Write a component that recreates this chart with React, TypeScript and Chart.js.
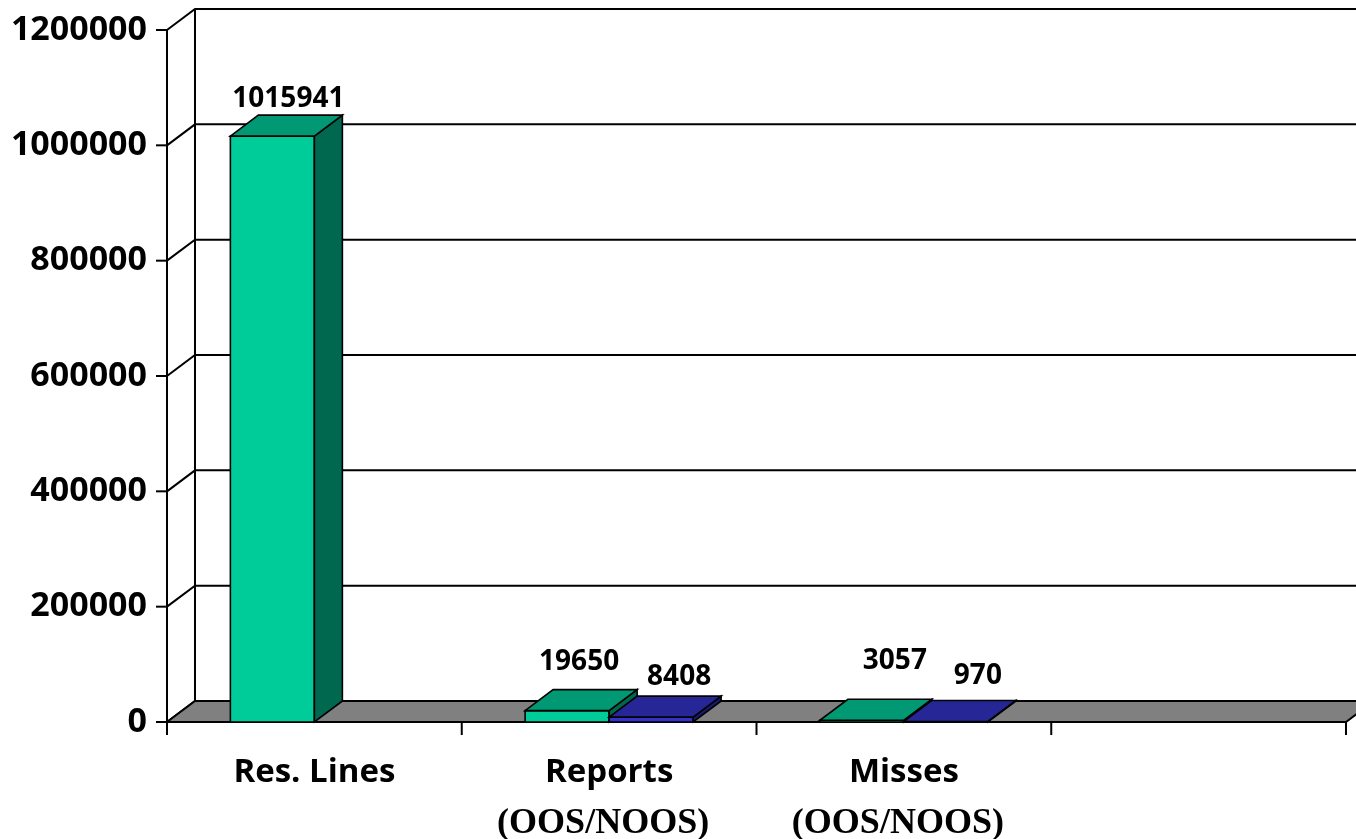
import React, { useEffect, useRef } from 'react';
import { Chart, registerables } from 'chart.js';

Chart.register(...registerables);

// Categories along the x axis (the fourth slot is an empty category)
const categories = ['Res. Lines', 'Reports', 'Misses', ''];
const categorySubLines = ['', '(OOS/NOOS)', '(OOS/NOOS)', ''];

// Series values
const greenValues: (number | null)[] = [1015941, 19650, 3057, null];
const blueValues: (number | null)[] = [null, 8408, 970, null];

// Value axis
const yMin = 0;
const yMax = 1200000;
const yStep = 200000;

// Small per-label nudges [dx, dy] for the value labels
const greenLabelNudge = [[2, 4], [-2, -8], [19, -18], [0, 0]];
const blueLabelNudge = [[0, 0], [14, 1], [18, -4], [0, 0]];

// 3D depth of the plot (pixels to the right / upward)
const DX = 28;
const DY = 21;

const SERIES_STYLE = [
  { front: '#00CC99', top: '#009973', side: '#00684F', nudge: greenLabelNudge },
  { front: '#3333CC', top: '#262696', side: '#1A1A70', nudge: blueLabelNudge },
];

const SANS = '"Open Sans", "DejaVu Sans", sans-serif';
const SERIF = '"Liberation Serif", "DejaVu Serif", serif';

function poly(ctx: CanvasRenderingContext2D, pts: number[][], fill: string) {
  ctx.beginPath();
  ctx.moveTo(pts[0][0], pts[0][1]);
  for (let i = 1; i < pts.length; i++) ctx.lineTo(pts[i][0], pts[i][1]);
  ctx.closePath();
  ctx.fillStyle = fill;
  ctx.fill();
  ctx.stroke();
}

const wallsPlugin = {
  id: 'walls3d',
  beforeDatasetsDraw(chart: any) {
    const { ctx, chartArea, scales } = chart;
    const { left, right, top, bottom } = chartArea;
    const y = scales.y;
    ctx.save();
    ctx.strokeStyle = '#000';
    ctx.lineWidth = 2;
    ctx.lineJoin = 'miter';

    // back-wall gridlines with their diagonal connectors on the side wall
    for (let v = yMin; v <= yMax; v += yStep) {
      const py = y.getPixelForValue(v);
      ctx.beginPath();
      ctx.moveTo(left, py);
      ctx.lineTo(left + DX, py - DY);
      ctx.lineTo(right + DX + 40, py - DY);
      ctx.stroke();
      // tick mark on the value axis
      ctx.beginPath();
      ctx.moveTo(left - 11, py);
      ctx.lineTo(left, py);
      ctx.stroke();
    }

    // back wall left edge
    ctx.beginPath();
    ctx.moveTo(left + DX, top - DY);
    ctx.lineTo(left + DX, bottom - DY);
    ctx.stroke();

    // floor
    poly(
      ctx,
      [
        [left, bottom],
        [right, bottom],
        [right + DX, bottom - DY],
        [left + DX, bottom - DY],
      ],
      '#808080'
    );

    // front value axis line
    ctx.beginPath();
    ctx.moveTo(left, top);
    ctx.lineTo(left, bottom + 13);
    ctx.stroke();

    // category tick marks at category boundaries
    const n = categories.length;
    const catW = (right - left) / n;
    for (let i = 1; i <= n; i++) {
      const px = left + catW * i;
      ctx.beginPath();
      ctx.moveTo(px, bottom);
      ctx.lineTo(px, bottom + 13);
      ctx.stroke();
    }
    ctx.restore();
  },
  afterDatasetsDraw(chart: any) {
    const { ctx, chartArea } = chart;
    const { bottom } = chartArea;
    ctx.save();
    ctx.strokeStyle = '#000';
    ctx.lineWidth = 1.6;
    ctx.lineJoin = 'miter';

    const labels: { text: string; x: number; y: number }[] = [];

    for (let i = 0; i < categories.length; i++) {
      chart.data.datasets.forEach((ds: any, d: number) => {
        const value = ds.data[i];
        if (value === null || value === undefined) return;
        const el = chart.getDatasetMeta(d).data[i];
        if (!el) return;
        const { x: cx, y: py, base, width } = el.getProps(['x', 'y', 'base', 'width'], true);
        const x0 = cx - width / 2;
        const x1 = cx + width / 2;
        const yb = Math.max(base, py);
        const yt = Math.min(base, py);
        const st = SERIES_STYLE[d];
        // front face
        poly(ctx, [[x0, yt], [x1, yt], [x1, yb], [x0, yb]], st.front);
        // side face
        poly(ctx, [[x1, yt], [x1 + DX, yt - DY], [x1 + DX, yb - DY], [x1, yb]], st.side);
        // top face
        poly(ctx, [[x0, yt], [x1, yt], [x1 + DX, yt - DY], [x0 + DX, yt - DY]], st.top);

        const nudge = st.nudge[i];
        labels.push({
          text: String(value),
          x: cx + DX / 2 + nudge[0],
          y: yt - DY - 20 + nudge[1],
        });
      });
    }

    ctx.fillStyle = '#000';
    ctx.font = `bold 28px ${SANS}`;
    ctx.textAlign = 'center';
    ctx.textBaseline = 'middle';
    labels.forEach((l) => ctx.fillText(l.text, l.x, l.y));

    // category labels (first line sans, second line serif)
    const xs = chart.scales.x;
    categories.forEach((c, i) => {
      const px = xs.getPixelForValue(i);
      ctx.textBaseline = 'alphabetic';
      ctx.font = `bold 33px ${SANS}`;
      if (c) ctx.fillText(c, px, bottom + 60);
      const sub = categorySubLines[i];
      if (sub) {
        ctx.font = `bold 36px ${SERIF}`;
        ctx.fillText(sub, px - 6, bottom + 111);
      }
    });
    ctx.restore();
  },
};

export default function App() {
  const canvasRef = useRef<HTMLCanvasElement | null>(null);

  useEffect(() => {
    if (!canvasRef.current) return;
    const chart = new Chart(canvasRef.current, {
      type: 'bar',
      data: {
        labels: categories,
        datasets: [
          {
            label: 'Series 1',
            data: greenValues as any,
            backgroundColor: 'rgba(0,0,0,0)',
            borderWidth: 0,
          },
          {
            label: 'Series 2',
            data: blueValues as any,
            backgroundColor: 'rgba(0,0,0,0)',
            borderWidth: 0,
          },
        ],
      },
      options: {
        animation: false,
        responsive: true,
        maintainAspectRatio: false,
        layout: { padding: { left: 0, top: 30, right: 10, bottom: 0 } },
        datasets: {
          bar: { categoryPercentage: 0.57, barPercentage: 1 },
        },
        plugins: {
          legend: { display: false },
          tooltip: { enabled: false },
          title: { display: false },
        },
        scales: {
          x: {
            grid: { display: false, drawTicks: false },
            border: { display: false },
            ticks: { display: false },
            afterFit: (scale: any) => {
              scale.height = 117;
              scale.paddingLeft = 0;
              scale.paddingRight = 0;
            },
          },
          y: {
            min: yMin,
            max: yMax,
            grid: { display: false, drawTicks: false },
            border: { display: false },
            ticks: {
              stepSize: yStep,
              padding: 20,
              color: '#000',
              font: { family: SANS, size: 34, weight: 'bold' },
              callback: (v: any) => String(v),
            },
            afterFit: (scale: any) => {
              scale.width = 167;
              scale.paddingTop = 0;
              scale.paddingBottom = 0;
            },
          },
        },
      },
      plugins: [wallsPlugin],
    });
    return () => chart.destroy();
  }, []);

  return (
    <div style={{ position: 'fixed', left: 0, top: 0, width: 1356, height: 839, background: '#fff' }}>
      <canvas ref={canvasRef} />
    </div>
  );
}
